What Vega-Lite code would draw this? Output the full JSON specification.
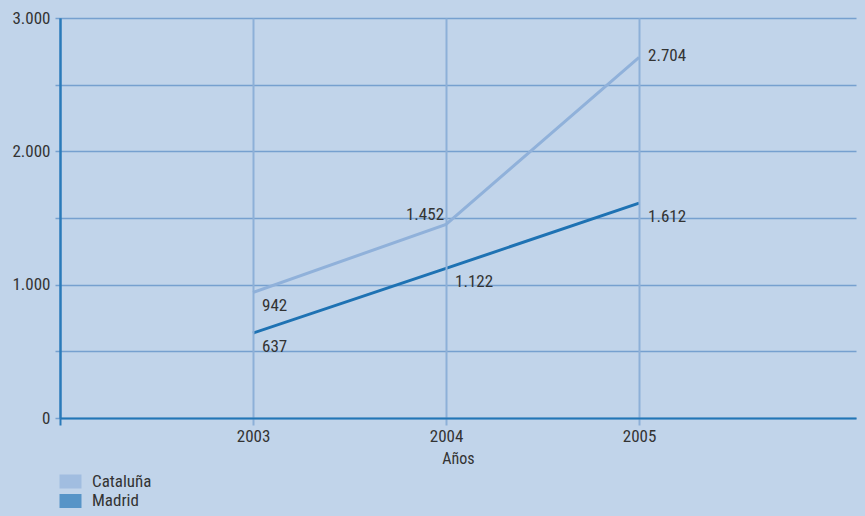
{
  "$schema": "https://vega.github.io/schema/vega-lite/v6.json",
  "width": 796,
  "height": 400,
  "autosize": {"type": "none"},
  "padding": {"left": 60, "top": 18, "right": 9, "bottom": 98},
  "background": "#c1d4ea",
  "config": {
    "view": {"stroke": null},
    "locale": {"number": {"decimal": ",", "thousands": ".", "grouping": [3], "currency": ["", " €"]}},
    "font": "Roboto Condensed, Liberation Sans Narrow, DejaVu Sans Condensed, Arial Narrow, Liberation Sans, sans-serif",
    "text": {"font": "Roboto Condensed, Liberation Sans Narrow, DejaVu Sans Condensed, Arial Narrow, Liberation Sans, sans-serif", "fontSize": 17, "color": "#333333"}
  },
  "data": {
    "values": [
      {"year": 2003, "series": "Cataluña", "value": 942},
      {"year": 2004, "series": "Cataluña", "value": 1452},
      {"year": 2005, "series": "Cataluña", "value": 2704},
      {"year": 2003, "series": "Madrid", "value": 637},
      {"year": 2004, "series": "Madrid", "value": 1122},
      {"year": 2005, "series": "Madrid", "value": 1612}
    ]
  },
  "encoding": {
    "x": {
      "field": "year",
      "type": "quantitative",
      "scale": {"domain": [2002, 2006.124], "nice": false, "zero": false},
      "axis": {
        "values": [2002, 2003, 2004, 2005],
        "format": "d",
        "labelExpr": "datum.value == 2002 ? '' : datum.label",
        "title": "Años",
        "grid": true,
        "gridColor": {"condition": {"test": "datum.value == 2002", "value": "#2a7ab9"}, "value": "#8db0d8"},
        "gridWidth": 2,
        "domainColor": "#2276b6",
        "domainWidth": 2,
        "tickColor": {"condition": {"test": "datum.value == 2002", "value": "#2a7ab9"}, "value": "#8db0d8"},
        "tickSize": 7,
        "tickWidth": 2,
        "labelFontSize": 17,
        "labelColor": "#333333",
        "labelPadding": 3,
        "titleFontSize": 16,
        "titleFontWeight": "normal",
        "titleColor": "#333333",
        "titlePadding": 6,
        "zindex": 1
      }
    },
    "y": {
      "field": "value",
      "type": "quantitative",
      "scale": {"domain": [0, 3000], "nice": false},
      "axis": {
        "values": [0, 500, 1000, 1500, 2000, 2500, 3000],
        "format": ",d",
        "labelExpr": "datum.value % 1000 == 0 ? datum.label : ''",
        "title": null,
        "grid": true,
        "gridColor": "#76a0cf",
        "gridWidth": 1.5,
        "domainColor": "#2a7ab9",
        "domainWidth": 2,
        "tickColor": "#76a0cf",
        "tickSize": 5,
        "tickWidth": 1.5,
        "labelFontSize": 17,
        "labelColor": "#333333",
        "labelPadding": 5
      }
    }
  },
  "layer": [
    {
      "transform": [{"filter": "false"}],
      "mark": {"type": "square", "filled": true},
      "encoding": {
        "color": {
          "field": "series",
          "type": "nominal",
          "scale": {"domain": ["Cataluña", "Madrid"], "range": ["#90b1da", "#1e72b3"]},
          "legend": {
            "title": null,
            "orient": "none",
            "legendX": 2,
            "legendY": 455,
            "symbolType": "M-1.571,-1H1.571V1H-1.571Z",
            "symbolSize": 196,
            "symbolStrokeWidth": 0,
            "symbolOpacity": 0.65,
            "labelFontSize": 17,
            "labelColor": "#333333",
            "labelOffset": 13,
            "rowPadding": 1.5,
            "padding": 0
          }
        }
      }
    },
    {
      "mark": {"type": "line", "strokeWidth": 3},
      "encoding": {
        "color": {"field": "series", "type": "nominal"}
      }
    },
    {
      "transform": [{"filter": "datum.series == 'Madrid' || datum.year == 2003"}],
      "mark": {"type": "text", "align": "left", "dx": 9, "dy": 14},
      "encoding": {"text": {"field": "value", "type": "quantitative", "format": ",d"}}
    },
    {
      "transform": [{"filter": "datum.series == 'Cataluña' && datum.year == 2005"}],
      "mark": {"type": "text", "align": "left", "dx": 9, "dy": -1.5},
      "encoding": {"text": {"field": "value", "type": "quantitative", "format": ",d"}}
    },
    {
      "transform": [{"filter": "datum.series == 'Cataluña' && datum.year == 2004"}],
      "mark": {"type": "text", "align": "right", "dx": -2, "dy": -9},
      "encoding": {"text": {"field": "value", "type": "quantitative", "format": ",d"}}
    }
  ]
}
